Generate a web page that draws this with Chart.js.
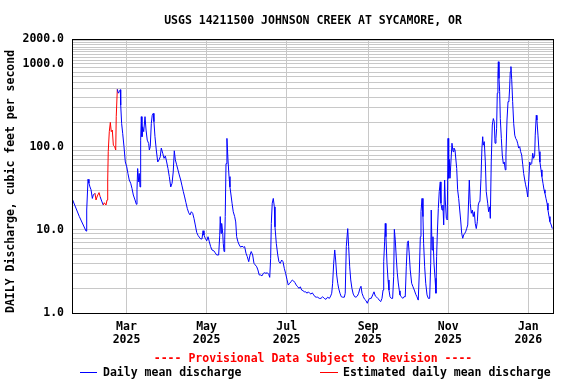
<!DOCTYPE html>
<html>
<head>
<meta charset="utf-8">
<script src="https://cdn.jsdelivr.net/npm/chart.js@4.4.1/dist/chart.umd.min.js"></script>
<style>
  html, body { margin: 0; padding: 0; background: #fff; }
</style>
</head>
<body>
<canvas id="myChart" width="576" height="384"></canvas>
<script>
// Daily mean discharge, x = day of year counted from 1 Jan 2025 (day 0)
var days = [
  18.0, 23.1, 28.2, 28.7, 29.7, 30.4, 31.2, 32.0, 33.0, 33.7, 35.0, 35.8, 36.8, 38.1, 39.0, 40.1, 41.3, 42.1, 43.4, 44.2,
  44.7, 45.1, 45.9, 46.7, 47.4, 48.2, 49.0, 50.0, 50.8, 51.2, 52.0, 52.8, 53.5, 54.3, 54.6, 55.3, 56.1, 57.1, 58.1, 59.2,
  60.1, 61.1, 62.2, 63.2, 64.2, 65.5, 66.5, 67.0, 67.5, 68.3, 68.7, 69.3, 69.8, 70.3, 70.8, 71.3, 72.1, 73.1, 73.9, 74.8,
  75.9, 76.4, 77.1, 77.9, 78.6, 79.4, 79.9, 80.7, 81.7, 82.8, 83.8, 84.7, 85.5, 86.6, 87.6, 88.6, 89.6, 90.6, 91.6, 92.7,
  93.7, 94.6, 95.4, 96.2, 97.2, 98.2, 99.2, 100.3, 101.3, 102.3, 103.3, 104.3, 105.3, 106.4, 107.4, 108.4, 109.4, 110.4, 111.4, 112.5,
  113.5, 114.4, 115.5, 116.5, 117.3, 118.0, 119.0, 120.1, 121.1, 122.1, 123.1, 124.1, 125.6, 126.6, 127.7, 129.2, 130.0, 130.4, 131.0, 131.5,
  132.3, 132.7, 133.3, 133.8, 134.2, 134.8, 135.5, 136.3, 137.1, 137.8, 138.6, 139.4, 140.3, 141.4, 142.2, 142.9, 143.9, 144.9, 146.0, 147.0,
  148.0, 149.0, 150.0, 151.0, 152.1, 153.1, 154.0, 155.1, 156.1, 157.1, 158.2, 159.1, 160.1, 161.2, 162.2, 163.2, 164.3, 165.2, 166.2, 167.3,
  168.1, 168.8, 169.3, 170.0, 170.8, 171.6, 172.1, 173.1, 174.2, 175.1, 176.1, 177.2, 178.2, 179.2, 180.2, 181.2, 182.2, 183.3, 184.3, 185.3,
  186.3, 187.3, 188.3, 189.4, 190.4, 191.4, 192.4, 193.4, 194.4, 195.5, 196.5, 197.5, 198.5, 199.5, 200.5, 201.6, 202.6, 203.6, 204.6, 205.8,
  207.1, 208.4, 209.6, 210.9, 212.2, 213.5, 214.5, 215.3, 216.0, 216.8, 217.6, 218.3, 219.1, 219.9, 220.6, 221.6, 222.6, 223.7, 224.9, 225.6,
  226.4, 227.5, 228.2, 229.0, 229.8, 230.7, 231.7, 232.8, 233.8, 234.8, 235.8, 236.8, 237.6, 238.4, 239.4, 240.4, 241.4, 242.4, 243.5, 244.5,
  245.4, 246.5, 247.5, 248.5, 249.6, 250.5, 251.5, 252.6, 253.6, 254.4, 254.9, 255.6, 256.1, 256.6, 257.4, 258.2, 258.9, 259.7, 260.7, 261.7,
  262.5, 263.0, 263.7, 264.5, 265.2, 266.0, 266.8, 267.3, 268.3, 269.4, 270.3, 271.3, 272.1, 272.9, 273.6, 274.4, 275.1, 276.2, 277.2, 278.2,
  279.3, 280.2, 281.2, 282.0, 282.8, 283.3, 284.1, 284.8, 285.3, 286.1, 286.9, 287.9, 288.9, 289.9, 290.7, 291.1, 291.7, 292.4, 293.2, 294.0,
  294.7, 295.2, 295.7, 296.5, 297.2, 298.0, 298.5, 299.3, 300.0, 300.6, 301.3, 301.8, 302.6, 303.3, 303.9, 304.4, 304.8, 305.4, 306.1, 306.9,
  307.7, 308.4, 309.2, 309.9, 310.5, 311.2, 312.0, 312.8, 313.5, 314.3, 315.1, 315.8, 316.6, 317.3, 318.1, 318.9, 319.6, 320.1, 320.8, 321.6,
  322.4, 323.1, 323.9, 324.6, 325.4, 326.2, 326.9, 327.7, 328.2, 329.0, 329.7, 330.3, 330.7, 331.5, 332.3, 333.0, 334.1, 334.8, 335.6, 336.1,
  336.8, 337.6, 338.4, 339.1, 339.7, 340.4, 340.9, 341.4, 341.9, 342.2, 342.7, 343.2, 343.7, 344.5, 345.2, 346.0, 346.7, 347.5, 348.0, 348.8,
  349.6, 350.3, 350.8, 351.3, 351.8, 352.4, 353.1, 353.9, 354.7, 355.4, 356.2, 356.9, 357.7, 358.5, 359.2, 360.0, 360.8, 361.5, 362.3, 363.0,
  363.8, 364.6, 365.3, 366.1, 366.8, 367.6, 368.4, 369.1, 369.9, 370.3, 371.1, 371.6, 372.4, 373.2, 373.9, 374.7, 375.4, 376.2, 377.0, 377.7,
  378.5, 379.3, 380.0, 380.8, 381.5, 382.5, 383.3
];
var flow = [
  23, 14.5, 9.7, 17.4, 40.8, 36.6, 33, 30.5, 24, 26.4, 27.7, 23, 25.7, 28.2, 25, 22.3, 20, 21.3, 20, 23,
  40, 88, 153, 198, 153, 160, 105, 101, 92, 232, 496, 445, 465, 490, 320, 192, 146, 101, 66, 57.6,
  48, 40, 36.6, 31.6, 26.4, 23, 20.4, 30.5, 55, 38, 48, 33, 121, 232, 133, 175, 153, 232, 160, 121,
  110, 92, 101, 192, 241, 254, 202, 133, 92, 66, 70, 76, 97, 84, 73, 78, 66, 55, 44, 33,
  36.6, 50, 90, 70, 61, 53, 46, 40, 34, 29, 25, 21.3, 18.2, 16.1, 15.2, 16.6, 15.9, 13.8, 11.5, 9.3,
  8.6, 8.2, 7.8, 7.8, 9.8, 8.7, 7.95, 7.4, 8.3, 7.2, 6.3, 5.75, 5.6, 5.3, 5.0, 5.0, 8.5, 14.5, 9.1, 12,
  9.1, 6.9, 5.5, 7.6, 14.5, 63, 127, 70, 44, 33, 26.4, 21, 16.6, 14.5, 12.5, 8.3, 7.2, 6.6, 6.2, 6.4,
  6.2, 6.3, 5.25, 4.77, 4.15, 5.0, 5.5, 5.0, 3.97, 3.79, 3.6, 3.3, 2.87, 2.87, 2.8, 3.0, 3.06, 3.0, 3.06, 2.93,
  2.69, 4.56, 12, 21, 24, 19, 10.9, 6.9, 5.0, 4.15, 3.97, 4.35, 4.15, 3.45, 3.0, 2.55, 2.17, 2.28, 2.38, 2.5,
  2.43, 2.32, 2.17, 2.07, 1.98, 2.07, 1.89, 1.86, 1.8, 1.8, 1.73, 1.8, 1.73, 1.69, 1.75, 1.65, 1.57, 1.55, 1.55, 1.5,
  1.5, 1.57, 1.5, 1.46, 1.55, 1.5, 1.6, 1.73, 2.28, 3.97, 5.75, 4.35, 2.87, 2.28, 1.98, 1.73, 1.57, 1.55, 1.55, 1.73,
  6.3, 10.4, 6.3, 3.6, 2.5, 1.98, 1.69, 1.57, 1.55, 1.6, 1.73, 1.98, 2.1, 1.73, 1.57, 1.46, 1.41, 1.31, 1.46, 1.5,
  1.5, 1.65, 1.8, 1.6, 1.55, 1.5, 1.43, 1.37, 1.5, 1.89, 4.15, 7.2, 12, 8.3, 3.97, 2.5, 1.89, 1.57, 1.5, 1.5,
  2.74, 10.2, 7.6, 4.6, 3.1, 2.3, 1.85, 1.65, 1.57, 1.5, 1.57, 1.57, 3.6, 6.9, 7.4, 5.0, 3.3, 2.28, 2.07, 1.89,
  1.68, 1.57, 1.43, 3.0, 8.3, 16.6, 24, 14.5, 6.9, 3.6, 2.28, 1.65, 1.5, 1.5, 3.97, 17.4, 5.75, 8.3, 3.97, 2.62,
  1.73, 4.77, 8.7, 18.2, 29, 38, 21, 17.4, 20, 11.5, 40, 23, 13.8, 13.2, 127, 42, 71, 42, 42, 111,
  88, 97, 92, 92, 55, 30.5, 24, 17.4, 13.2, 9.1, 7.95, 8.7, 9.1, 9.5, 10.4, 11.5, 23, 40, 21, 15.9,
  17.4, 14.5, 16.6, 12, 10.4, 12.6, 20, 22, 22.3, 42, 97, 133, 105, 116, 66, 29, 21, 16.6, 19, 13.8,
  66, 184, 220, 202, 111, 127, 168, 445, 735, 1065, 670, 465, 220, 127, 80, 63, 66, 53, 80, 211,
  352, 367, 510, 805, 930, 645, 352, 192, 139, 127, 121, 111, 97, 101, 88, 80, 61, 48, 40, 35,
  30.5, 25, 38, 66, 61, 63, 84, 73, 80, 139, 241, 211, 139, 88, 66, 53, 44, 36.6, 30.5, 27.7,
  24, 21, 17.4, 14.5, 12.6, 11.5, 10.4
];
// day ranges flagged as estimated (drawn red)
var estimatedSpans = [[35.5, 39.5], [42.0, 52.3]];

var tickDays = [59, 120, 181, 243, 304, 365];
var tickLabels = [['Mar', '2025'], ['May', '2025'], ['Jul', '2025'], ['Sep', '2025'], ['Nov', '2025'], ['Jan', '2026']];
var yLabelled = [1, 10, 100, 1000, 2000];

var chartTitle = 'USGS 14211500 JOHNSON CREEK AT SYCAMORE, OR';
var provisional = '---- Provisional Data Subject to Revision ----';
var legendNames = ['Daily mean discharge', 'Estimated daily mean discharge'];

var BLUE = '#0000ff';
var RED = '#ff0000';
var GRID = '#c8c8c8';
var FONT = { family: "'DejaVu Sans Mono', monospace", size: 11.5, weight: 'bold', lineHeight: 1.16 };
var FONT_CSS = "bold 11.5px 'DejaVu Sans Mono', monospace";

function isEstimated(d) {
  for (var i = 0; i < estimatedSpans.length; i++) {
    if (d >= estimatedSpans[i][0] && d <= estimatedSpans[i][1]) return true;
  }
  return false;
}

// grid values for the log axis: 1..9, 10..90, 100..900, 1000..2000 by 100
var yGrid = [];
for (var dec = 1; dec <= 100; dec *= 10) {
  for (var m = 1; m <= 9; m++) yGrid.push(m * dec);
}
for (var v = 1000; v <= 2000; v += 100) yGrid.push(v);

var points = days.map(function (d, i) { return { x: d, y: flow[i] }; });

var decorations = {
  id: 'decorations',
  afterDraw: function (chart) {
    var ctx = chart.ctx, a = chart.chartArea;
    var cx = (a.left + a.right) / 2;
    ctx.save();
    ctx.strokeStyle = '#000';
    ctx.lineWidth = 1;
    ctx.strokeRect(Math.round(a.left) + 0.5, Math.round(a.top) + 0.5,
      Math.round(a.right - a.left) - 1, Math.round(a.bottom - a.top));

    ctx.font = FONT_CSS;
    ctx.textBaseline = 'middle';
    ctx.textAlign = 'center';
    ctx.fillStyle = '#000';
    ctx.fillText(chartTitle, cx, 21);
    ctx.fillStyle = RED;
    ctx.fillText(provisional, cx, 359);

    // legend
    ctx.textAlign = 'left';
    ctx.strokeStyle = BLUE;
    ctx.beginPath(); ctx.moveTo(80, 372.5); ctx.lineTo(97, 372.5); ctx.stroke();
    ctx.fillStyle = '#000';
    ctx.fillText(legendNames[0], 103, 373);
    ctx.strokeStyle = RED;
    ctx.beginPath(); ctx.moveTo(320, 372.5); ctx.lineTo(338, 372.5); ctx.stroke();
    ctx.fillText(legendNames[1], 343, 373);
    ctx.restore();
  }
};

var ctx = document.getElementById('myChart').getContext('2d');
var myChart = new Chart(ctx, {
  type: 'line',
  data: {
    datasets: [{
      data: points,
      borderColor: BLUE,
      borderWidth: 1,
      pointRadius: 0,
      tension: 0,
      fill: false,
      segment: {
        borderColor: function (c) { return isEstimated(c.p1.parsed.x) ? RED : BLUE; }
      }
    }]
  },
  options: {
    responsive: false,
    animation: false,
    layout: { padding: { top: 39, right: 22, bottom: 0, left: 0 } },
    plugins: {
      legend: { display: false },
      title: { display: false },
      tooltip: { enabled: false }
    },
    scales: {
      x: {
        type: 'linear',
        min: 17.5,
        max: 384.6,
        afterBuildTicks: function (scale) {
          scale.ticks = tickDays.map(function (d) { return { value: d }; });
        },
        afterFit: function (scale) { scale.height = 71; },
        ticks: {
          autoSkip: false,
          maxRotation: 0,
          padding: 7,
          color: '#000',
          font: FONT,
          callback: function (value, index) { return tickLabels[index]; }
        },
        grid: { color: GRID, drawTicks: false },
        border: { display: false }
      },
      y: {
        type: 'logarithmic',
        min: 1,
        max: 2000,
        afterBuildTicks: function (scale) {
          scale.ticks = yGrid.map(function (v) { return { value: v }; });
        },
        afterFit: function (scale) { scale.width = 72; },
        ticks: {
          autoSkip: false,
          padding: 8,
          color: '#000',
          font: FONT,
          callback: function (value) {
            return yLabelled.indexOf(value) >= 0 ? value.toFixed(1) : '';
          }
        },
        grid: { color: GRID, drawTicks: false },
        border: { display: false },
        title: {
          display: true,
          text: 'DAILY Discharge, cubic feet per second',
          align: 'start',
          color: '#000',
          font: FONT,
          padding: { top: 4, bottom: 0 }
        }
      }
    }
  },
  plugins: [decorations]
});
</script>
</body>
</html>
